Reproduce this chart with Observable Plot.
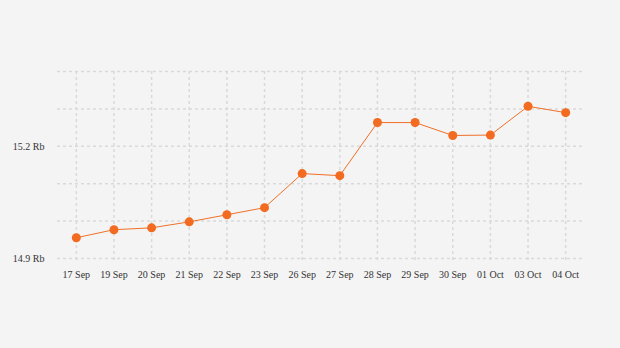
<!DOCTYPE html>
<html>
<head>
<meta charset="utf-8">
<script src="https://cdn.jsdelivr.net/npm/d3@7"></script>
<script src="https://cdn.jsdelivr.net/npm/@observablehq/plot@0.6"></script>
<style>
html,body{margin:0;padding:0;background:#f4f4f4;}
#chart{width:620px;height:348px;}
</style>
</head>
<body>
<div id="chart"></div>
<script>
const dates = ["17 Sep","19 Sep","20 Sep","21 Sep","22 Sep","23 Sep","26 Sep","27 Sep","28 Sep","29 Sep","30 Sep","01 Oct","03 Oct","04 Oct"];
const values = [14.9555,14.977,14.982,14.998,15.017,15.036,15.127,15.1215,15.2635,15.2635,15.229,15.230,15.307,15.290];
const gridY = [14.9,15.0,15.1,15.2,15.3,15.4];
const labelY = [14.9,15.2];

const data = dates.map((d,i)=>({date:d, value:values[i]}));

const chart = Plot.plot({
  width: 620,
  height: 348,
  marginLeft: 57,
  marginRight: 36,
  marginTop: 71,
  marginBottom: 90,
  style: {background:"#f4f4f4", fontFamily:"'Liberation Serif', serif", fontSize:"10px", color:"#333"},
  x: {type:"point", domain: dates, padding:0.5, round:false, label:null},
  y: {domain:[14.9,15.4], label:null},
  marks: [
    Plot.ruleY(gridY, {y:d=>d, stroke:"#d9d9d9", strokeWidth:1.5, strokeDasharray:"3,3"}),
    Plot.ruleX(dates, {x:d=>d, stroke:"#d9d9d9", strokeWidth:1.5, strokeDasharray:"3,3", insetBottom:-4}),
    Plot.axisY(labelY, {tickSize:0, tickPadding:13, tickFormat:d=>d.toFixed(1)+" Rb", fill:"#333", fontSize:10}),
    Plot.axisX(dates, {tickSize:0, tickPadding:12, fill:"#333", fontSize:10}),
    Plot.line(data, {x:"date", y:"value", stroke:"#f07028", strokeWidth:1}),
    Plot.dot(data, {x:"date", y:"value", r:4.5, fill:"#f26b21", stroke:"none"})
  ]
});
document.getElementById("chart").appendChild(chart);
</script>
</body>
</html>
